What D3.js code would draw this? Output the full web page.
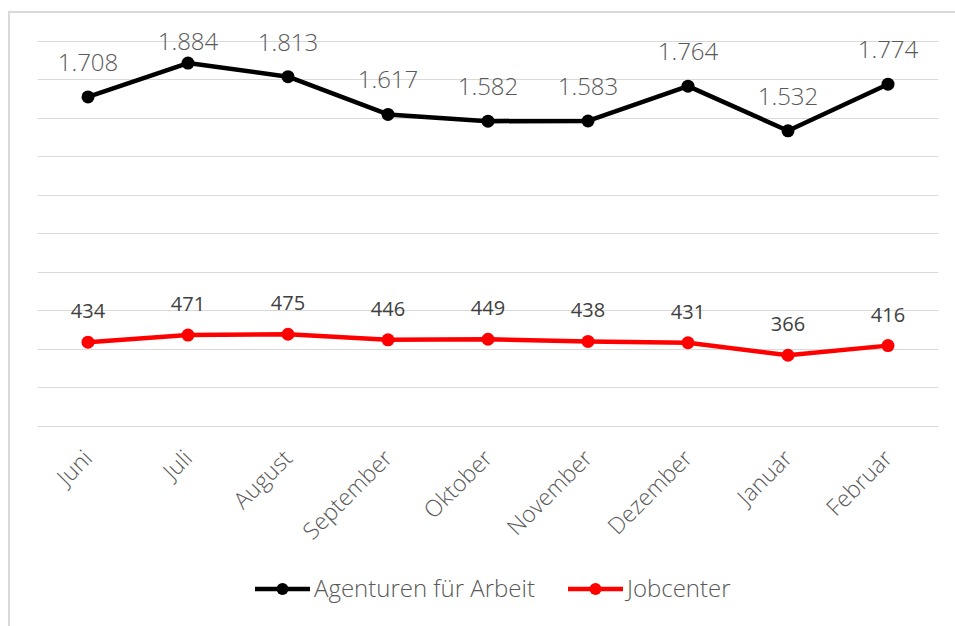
<!DOCTYPE html>
<html>
<head>
<meta charset="utf-8">
<script src="https://cdn.jsdelivr.net/npm/d3@7"></script>
<style>
  body { margin: 0; background: #fff; }
  text { font-family: "Open Sans", sans-serif; }
</style>
</head>
<body>
<script>
const w = 955;
const h = 626;

const months = ["Juni", "Juli", "August", "September", "Oktober", "November", "Dezember", "Januar", "Februar"];
const agenturen = [1708, 1884, 1813, 1617, 1582, 1583, 1764, 1532, 1774];
const jobcenter = [434, 471, 475, 446, 449, 438, 431, 366, 416];
const gridTicks = d3.range(0, 2001, 200);

const seriesNames = ["Agenturen für Arbeit", "Jobcenter"];
const seriesColors = ["#000000", "#ff0000"];

const fmt = d3.formatLocale({decimal: ",", thousands: ".", grouping: [3], currency: ["", "€"]}).format(",d");

const svg = d3.select("body")
              .append("svg")
              .attr("width", w)
              .attr("height", h);

// chart frame (cut off at right and bottom like the screenshot)
svg.append("rect")
   .attr("x", 9).attr("y", 12)
   .attr("width", 1000).attr("height", 700)
   .attr("fill", "none")
   .attr("stroke", "#d9d9d9")
   .attr("stroke-width", 2);

const x = d3.scalePoint()
            .domain(months)
            .range([38, 938])
            .padding(0.5);

const y = d3.scaleLinear()
            .domain([0, 2000])
            .range([425.7, 40.7]);

// gridlines
svg.append("g")
   .selectAll("line")
   .data(gridTicks)
   .enter()
   .append("line")
   .attr("x1", 38).attr("x2", 938)
   .attr("y1", d => Math.round(y(d)) + 0.5)
   .attr("y2", d => Math.round(y(d)) + 0.5)
   .attr("stroke", "#d9d9d9")
   .attr("stroke-width", 1);

// month labels, rotated
svg.append("g")
   .selectAll("text")
   .data(months)
   .enter()
   .append("text")
   .attr("transform", d => "translate(" + (x(d) - 4) + ",450) rotate(-45)")
   .attr("text-anchor", "end")
   .attr("dy", "0.6em")
   .attr("fill", "#595959")
   .style("font-size", "23px")
   .style("font-weight", 300)
   .text(d => d);

const line = d3.line()
               .x((d, i) => x(months[i]))
               .y(d => y(d));

const drawSeries = function(values, color, lineW, labelSize, labelWeight, labelOffset, labelColor) {
  const g = svg.append("g");
  g.append("path")
   .datum(values)
   .attr("d", line)
   .attr("fill", "none")
   .attr("stroke", color)
   .attr("stroke-width", lineW)
   .attr("stroke-linejoin", "round");
  g.selectAll("circle")
   .data(values)
   .enter()
   .append("circle")
   .attr("cx", (d, i) => x(months[i]))
   .attr("cy", d => y(d))
   .attr("r", 6.5)
   .attr("fill", color);
  g.selectAll("text")
   .data(values)
   .enter()
   .append("text")
   .attr("x", (d, i) => x(months[i]))
   .attr("y", d => Math.max(y(d) - labelOffset, 50))
   .attr("text-anchor", "middle")
   .attr("fill", labelColor)
   .style("font-size", labelSize)
   .style("font-weight", labelWeight)
   .text(d => fmt(d));
};

drawSeries(agenturen, seriesColors[0], 4.5, "24px", 300, 26, "#595959");
drawSeries(jobcenter, seriesColors[1], 4.5, "20px", 400, 24, "#404040");

// legend
const legendX = [255, 568];
const legend = svg.append("g")
                  .selectAll("g")
                  .data(seriesNames)
                  .enter()
                  .append("g")
                  .attr("transform", (d, i) => "translate(" + legendX[i] + ",589)");
legend.append("line")
      .attr("x1", 0).attr("x2", 55)
      .attr("stroke", (d, i) => seriesColors[i])
      .attr("stroke-width", 4.5);
legend.append("circle")
      .attr("cx", 27.5)
      .attr("r", 6)
      .attr("fill", (d, i) => seriesColors[i]);
legend.append("text")
      .attr("x", 59)
      .attr("y", 8)
      .attr("fill", "#595959")
      .style("font-size", "24px")
      .style("font-weight", 300)
      .text(d => d);
</script>
</body>
</html>
